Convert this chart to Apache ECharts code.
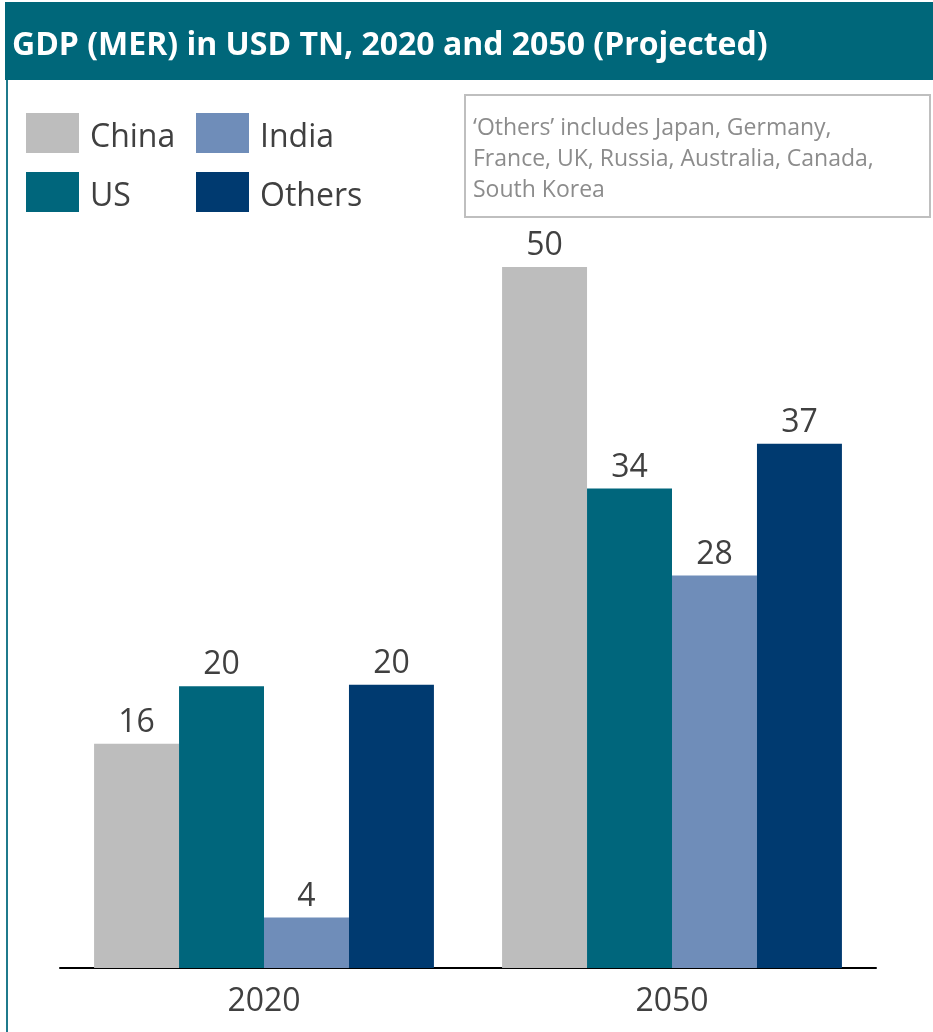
<!DOCTYPE html>
<html>
<head>
<meta charset="utf-8">
<script src="https://cdn.jsdelivr.net/npm/echarts@6/dist/echarts.min.js"></script>
<style>
  html, body { margin: 0; padding: 0; background: #fff; }
  #chart { width: 933px; height: 1032px; }
</style>
</head>
<body>
<div id="chart"></div>
<script>
var years = ['2020', '2050'];
var china = [16, 50];
var us = [20.1, 34.2];
var india = [3.6, 28];
var others = [20.2, 37.4];

var titleText = 'GDP (MER) in USD TN, 2020 and 2050 (Projected)';
var noteLines = ['\u2018Others\u2019 includes Japan, Germany,', 'France, UK, Russia, Australia, Canada,', 'South Korea'];

var dom = document.getElementById('chart');
var myChart = echarts.init(dom, null, { renderer: 'canvas' });
var font = 'Open Sans';

function bar(name, data, color) {
  return {
    name: name,
    type: 'bar',
    data: data,
    itemStyle: { color: color },
    barGap: '0%',
    barCategoryGap: '16.7%',
    label: {
      show: true,
      position: 'top',
      distance: 5,
      fontSize: 32,
      fontFamily: font,
      color: '#404040',
      formatter: function (p) { return Math.round(p.value); }
    }
  };
}

function legendCol(x, names) {
  return {
    orient: 'vertical', left: x, top: 113, padding: 0,
    itemWidth: 53, itemHeight: 40, itemGap: 18,
    icon: 'rect',
    data: names,
    formatter: '{t|{name}}',
    textStyle: {
      fontSize: 32, color: '#404040', fontFamily: font, padding: [0, 0, 0, 6],
      rich: { t: { fontSize: 32, color: '#404040', fontFamily: font, padding: [10, 0, 0, 0] } }
    }
  };
}

var option = {
  animation: false,
  backgroundColor: '#fff',
  title: {
    text: titleText,
    left: 12,
    top: 30,
    padding: 0,
    textStyle: { color: '#fff', fontSize: 32, fontWeight: 'bold', fontFamily: font }
  },
  legend: [
    legendCol(26, ['China', 'US']),
    legendCol(196, ['India', 'Others'])
  ],
  graphic: [
    { type: 'rect', shape: { x: 5, y: 2, width: 940, height: 78 }, style: { fill: '#00677A' }, z: -1 },
    { type: 'rect', shape: { x: 6, y: 80, width: 2, height: 960 }, style: { fill: '#1F7A8C' } },
    { type: 'rect', shape: { x: 465, y: 95, width: 465, height: 122 }, style: { fill: '#fff', stroke: '#BFBFBF', lineWidth: 2 } },
    {
      type: 'text', left: 473, top: 113,
      style: { text: noteLines.join('\n'), fill: '#8C8C8C', fontSize: 23, fontFamily: font, lineHeight: 31 }
    }
  ],
  grid: { left: 60, right: 57, top: 267, bottom: 64 },
  xAxis: {
    type: 'category',
    data: years,
    axisTick: { show: false },
    axisLine: { lineStyle: { color: '#000', width: 2 } },
    axisLabel: { fontSize: 32, color: '#404040', fontFamily: font, margin: 18 }
  },
  yAxis: { type: 'value', min: 0, max: 50, show: false, splitLine: { show: false } },
  series: [
    bar('China', china, '#BDBDBD'),
    bar('US', us, '#00667C'),
    bar('India', india, '#6F8DB9'),
    bar('Others', others, '#003A70')
  ]
};

myChart.setOption(option);
window.onresize = myChart.resize;
</script>
</body>
</html>
